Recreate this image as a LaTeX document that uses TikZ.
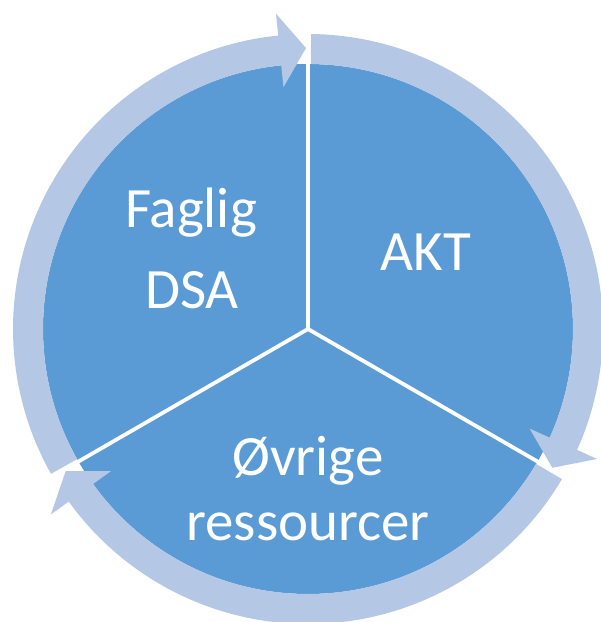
\documentclass[tikz,border=0pt]{standalone}
\usepackage{fontspec}
\setmainfont{Carlito}
\definecolor{piecol}{HTML}{5B9BD5}
\definecolor{ringcol}{HTML}{B4C8E5}
\begin{document}
\begin{tikzpicture}[x=1pt,y=1pt,
  lbl/.style={text=white,font=\fontsize{57}{62}\selectfont,anchor=base,inner sep=0pt},
  divider/.style={draw=white,line width=3.8pt},
  ringarrow/.style={fill=ringcol,draw=none}]
\useasboundingbox (-308,-293) rectangle (293,329);
% pie
\fill[piecol] (0,0) circle[radius=265];
% circular arrows
\foreach \d in {90,-30,210}{
  \pgfmathsetmacro{\aa}{\d-0.6}
  \pgfmathsetmacro{\ab}{\d-114.2}
  \pgfmathsetmacro{\at}{\d-119.6}
  \path[ringarrow] (\aa:295) arc[start angle=\aa, end angle=\ab, radius=295]
    -- (\ab:317) -- (\at:281) -- (\ab:243) -- (\ab:265)
    arc[start angle=\ab, end angle=\aa, radius=265] -- cycle;
}
% dividers
\coordinate (c) at (0,0);
\coordinate (d1) at (90:281);
\coordinate (d2) at (-30:281);
\coordinate (d3) at (210:281);
\draw[divider] (c) -- (d1);
\draw[divider] (c) -- (d2);
\draw[divider] (c) -- (d3);
% labels
\node[lbl] (faglig) at (191-308,329-227) {Faglig};
\node[lbl] (dsa) at (192-308,329-308) {DSA};
\node[lbl] (akt) at (426-308,329-270) {AKT};
\node[lbl] (ovrige) at (308-308,329-475) {Øvrige};
\node[lbl] (ress) at (308-308,329-540) {ressourcer};
\end{tikzpicture}
\end{document}
